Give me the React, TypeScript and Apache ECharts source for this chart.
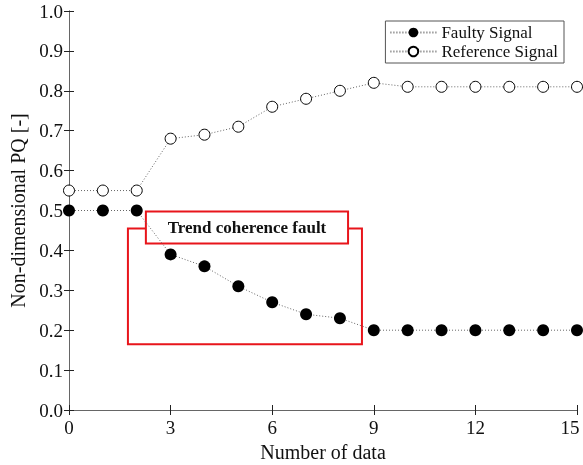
import React, { useEffect, useRef } from "react";
import * as echarts from "echarts";

const xValues = [0, 1, 2, 3, 4, 5, 6, 7, 8, 9, 10, 11, 12, 13, 14, 15];
const faulty = [0.5, 0.5, 0.5, 0.39, 0.36, 0.31, 0.27, 0.24, 0.23, 0.2, 0.2, 0.2, 0.2, 0.2, 0.2, 0.2];
const reference = [0.55, 0.55, 0.55, 0.68, 0.69, 0.71, 0.76, 0.78, 0.8, 0.82, 0.81, 0.81, 0.81, 0.81, 0.81, 0.81];
const faultRegion = { x: [1.74, 8.65], y: [0.165, 0.455] };
const faultLabelBox = { x: [2.27, 8.24], y: [0.4175, 0.4975] };
const faultLabel = "Trend coherence fault";
const xMax = 15;

const FONT = "Liberation Serif";

export default function App() {
  const ref = useRef<HTMLDivElement>(null);
  useEffect(() => {
    document.body.style.margin = "0";
    document.body.style.overflow = "hidden";
    document.documentElement.style.overflow = "hidden";
    const chart = echarts.init(ref.current!, null, { renderer: "svg" });
    const axisLine = { lineStyle: { color: "#666", width: 1 } };
    const tick = { inside: true, length: 5, lineStyle: { color: "#222" } };
    chart.setOption({
      animation: false,
      textStyle: { fontFamily: FONT },
      grid: {
        left: 69,
        right: 6,
        top: 11,
        bottom: 55,
        containLabel: false,
        outerBoundsMode: "none",
      },
      legend: {
        data: ["Faulty Signal", "Reference Signal"],
        orient: "vertical",
        right: 19,
        top: 21,
        backgroundColor: "#fff",
        borderColor: "#555",
        borderWidth: 1,
        padding: [3, 6, 3, 4],
        itemGap: 2,
        itemWidth: 46,
        itemHeight: 12,
        textStyle: { fontFamily: FONT, fontSize: 17, color: "#111" },
      },
      xAxis: [
        {
          type: "value",
          min: 0,
          max: xMax,
          interval: 3,
          name: "Number of data",
          nameLocation: "middle",
          nameGap: 32,
          nameTextStyle: { fontFamily: FONT, fontSize: 20, color: "#111" },
          axisLine,
          axisTick: tick,
          axisLabel: {
            fontFamily: FONT,
            fontSize: 19,
            color: "#111",
            margin: 8,
            formatter: (v: number) => (v === xMax ? "{last|" + v + "}" : String(v)),
            rich: {
              last: { fontFamily: FONT, fontSize: 19, color: "#111", padding: [0, 14, 0, 0] },
            },
          },
          splitLine: { show: false },
        },
        {
          type: "value",
          position: "top",
          min: 0,
          max: xMax,
          interval: 3,
          axisLine,
          axisTick: tick,
          axisLabel: { show: false },
          splitLine: { show: false },
        },
      ],
      yAxis: [
        {
          type: "value",
          min: 0,
          max: 1,
          interval: 0.1,
          name: "Non-dimensional PQ [-]",
          nameLocation: "middle",
          nameGap: 32,
          nameTextStyle: { fontFamily: FONT, fontSize: 20, color: "#111" },
          axisLine,
          axisTick: tick,
          axisLabel: {
            fontFamily: FONT,
            fontSize: 19,
            color: "#111",
            margin: 6,
            formatter: (v: number) => v.toFixed(1),
          },
          splitLine: { show: false },
        },
        {
          type: "value",
          position: "right",
          min: 0,
          max: 1,
          interval: 0.1,
          axisLine,
          axisTick: tick,
          axisLabel: { show: false },
          splitLine: { show: false },
        },
      ],
      series: [
        {
          name: "Reference Signal",
          type: "line",
          data: xValues.map((x, i) => [x, reference[i]]),
          symbol: "circle",
          symbolSize: 11,
          itemStyle: { color: "#fff", borderColor: "#000", borderWidth: 1 },
          lineStyle: { color: "#666", width: 1, type: [1, 2] },
          z: 3,
        },
        {
          name: "Faulty Signal",
          type: "line",
          data: xValues.map((x, i) => [x, faulty[i]]),
          symbol: "circle",
          symbolSize: 12,
          itemStyle: { color: "#000", borderColor: "#000", borderWidth: 0 },
          lineStyle: { color: "#666", width: 1, type: [1, 2] },
          z: 3,
        },
        {
          name: "annot",
          type: "line",
          data: [],
          z: 10,
          silent: true,
          markArea: {
            silent: true,
            data: [
              [
                {
                  coord: [faultRegion.x[0], faultRegion.y[1]],
                  itemStyle: { color: "rgba(0,0,0,0)", borderColor: "#e8151b", borderWidth: 2 },
                  label: { show: false },
                },
                { coord: [faultRegion.x[1], faultRegion.y[0]] },
              ],
              [
                {
                  coord: [faultLabelBox.x[0], faultLabelBox.y[1]],
                  name: faultLabel,
                  itemStyle: { color: "#fff", borderColor: "#e8151b", borderWidth: 2 },
                  label: {
                    show: true,
                    position: "inside",
                    fontFamily: FONT,
                    fontSize: 17,
                    fontWeight: "bold",
                    color: "#111",
                  },
                },
                { coord: [faultLabelBox.x[1], faultLabelBox.y[0]] },
              ],
            ],
          },
        },
      ],
    });
    return () => chart.dispose();
  }, []);
  return (
    <div
      ref={ref}
      style={{ position: "fixed", left: 0, top: 0, width: 583, height: 465 }}
    />
  );
}
